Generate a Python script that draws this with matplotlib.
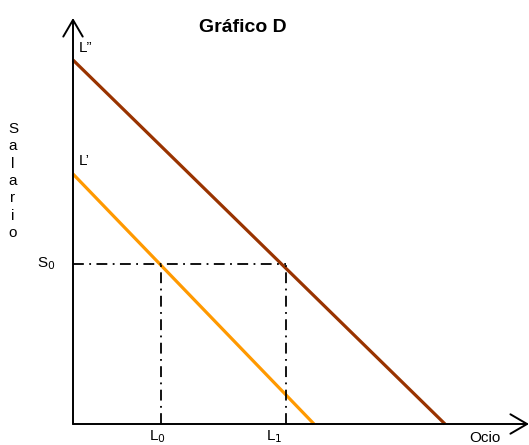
import matplotlib.pyplot as plt

# datos del grafico (unidades arbitrarias)
L2_y = 36.4   # intercepto vertical de L''
L2_x = 37.2   # intercepto horizontal de L''
L1_y = 25.0   # intercepto vertical de L'
L1_x = 24.1   # intercepto horizontal de L'
S0 = 16.0
L0 = 8.8
L1 = 21.3

plt.rcParams['font.family'] = ['Liberation Sans', 'DejaVu Sans']

fig = plt.figure(figsize=(5.29, 4.45), dpi=100)
ax = fig.add_axes([0, 0, 1, 1])
ax.set_xlim(-7.3, 45.6)
ax.set_ylim(-2.1, 42.4)
ax.axis('off')

# ejes con flecha
flecha = dict(arrowstyle='->,head_length=1.2,head_width=0.7', mutation_scale=10,
              color='black', lw=1.4, shrinkA=0, shrinkB=0)
ax.annotate('', xy=(0, 40.6), xytext=(0, 0), arrowprops=flecha)
ax.annotate('', xy=(45.6, 0), xytext=(0, 0), arrowprops=flecha)

# rectas
ax.plot([0, L2_x], [L2_y, 0], color='#993300', lw=2.3, solid_capstyle='butt')
ax.plot([0, L1_x], [L1_y, 0], color='#FF9900', lw=2.3, solid_capstyle='butt')

# lineas punteadas
ax.plot([0, L1], [S0, S0], color='black', lw=1.3, ls=(0, (6, 3, 1, 3)))
ax.plot([L0, L0], [0, S0], color='black', lw=1.3, ls=(0, (6, 3, 1, 3)))
ax.plot([L1, L1], [0, S0], color='black', lw=1.3, ls=(0, (6, 3, 1, 3)))

# textos
ax.text(17.0, 39.6, 'Gráfico D', fontsize=14, fontweight='bold', ha='center', va='center')
ax.text(0.6, 37.6, 'L”', fontsize=11, ha='left', va='center')
ax.text(0.6, 26.3, 'L’', fontsize=11, ha='left', va='center')
ax.text(-1.8, S0, 'S$_0$', fontsize=11, ha='right', va='center')
ax.text(L0 - 0.4, -1.25, 'L$_0$', fontsize=11, ha='center', va='center')
ax.text(L1 - 1.2, -1.25, 'L$_1$', fontsize=11, ha='center', va='center')
ax.text(41.2, -1.35, 'Ocio', fontsize=11, ha='center', va='center')
ax.text(-6.0, 24.3, 'S\na\nl\na\nr\ni\no', fontsize=11, ha='center', va='center',
        linespacing=1.3)

fig.savefig('out.png', dpi=100)
